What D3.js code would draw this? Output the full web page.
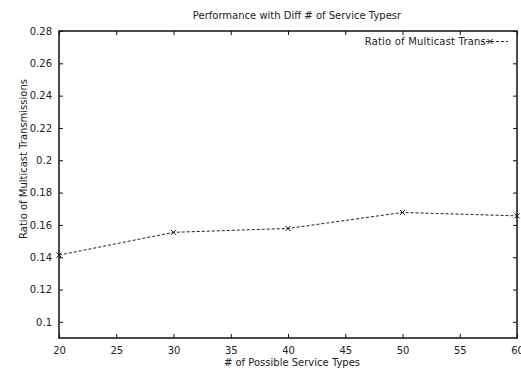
<!DOCTYPE html>
<html>
<head>
<meta charset="utf-8">
<script src="https://cdn.jsdelivr.net/npm/d3@7"></script>
<style>
  body { margin: 0; background: #fff; }
  text { font-family: "DejaVu Sans", sans-serif; fill: #222; }
</style>
</head>
<body>
<div id="chart"></div>
<script>
const serviceTypes = [20, 30, 40, 50, 60];
const multicastRatio = [0.1413, 0.1554, 0.1578, 0.1677, 0.1656];
const xTicks = [20, 25, 30, 35, 40, 45, 50, 55, 60];
const yTicks = [0.1, 0.12, 0.14, 0.16, 0.18, 0.2, 0.22, 0.24, 0.26, 0.28];
const seriesName = "Ratio of Multicast Trans";

const width = 521, height = 372;
const margin = { top: 31, right: 4, bottom: 34, left: 59 };

const svg = d3.select("#chart").append("svg")
  .attr("width", width)
  .attr("height", height);

const x = d3.scaleLinear().domain([20, 60]).range([margin.left, width - margin.right]);
const y = d3.scaleLinear().domain([0.09, 0.28]).range([height - margin.bottom, margin.top]);

const fmt = d => String(+d.toFixed(2));
const tick = 4;

// bottom / top axes (ticks pointing in)
svg.append("g")
  .attr("transform", `translate(0,${y.range()[0]})`)
  .call(d3.axisBottom(x).tickValues(xTicks).tickSizeInner(-tick).tickSizeOuter(0).tickPadding(9))
  .call(g => g.select(".domain").remove());
svg.append("g")
  .attr("transform", `translate(0,${y.range()[1]})`)
  .call(d3.axisTop(x).tickValues(xTicks).tickSizeInner(-tick).tickSizeOuter(0).tickFormat(""))
  .call(g => g.select(".domain").remove());

// left / right axes
svg.append("g")
  .attr("transform", `translate(${x.range()[0]},0)`)
  .call(d3.axisLeft(y).tickValues(yTicks).tickSizeInner(-tick).tickSizeOuter(0).tickPadding(7).tickFormat(fmt))
  .call(g => g.select(".domain").remove());
svg.append("g")
  .attr("transform", `translate(${x.range()[1]},0)`)
  .call(d3.axisRight(y).tickValues(yTicks).tickSizeInner(-tick).tickSizeOuter(0).tickFormat(""))
  .call(g => g.select(".domain").remove());

svg.selectAll(".tick text")
  .style("font-size", "10px")
  .style("font-family", "DejaVu Sans, sans-serif")
  .attr("fill", "#222");
svg.selectAll(".tick line").attr("stroke", "#111");

// frame
svg.append("rect")
  .attr("x", x.range()[0]).attr("y", y.range()[1])
  .attr("width", x.range()[1] - x.range()[0])
  .attr("height", y.range()[0] - y.range()[1])
  .attr("fill", "none").attr("stroke", "#111").attr("stroke-width", 1.5);

// series
const pts = serviceTypes.map((d, i) => [d, multicastRatio[i]]);
svg.append("path")
  .datum(pts)
  .attr("fill", "none")
  .attr("stroke", "#222")
  .attr("stroke-width", 1)
  .attr("stroke-dasharray", "3,2")
  .attr("d", d3.line().x(d => x(d[0])).y(d => y(d[1])));

const cross = d3.symbol().type(d3.symbolX).size(18);
svg.selectAll(".mark")
  .data(pts)
  .join("path")
  .attr("class", "mark")
  .attr("transform", d => `translate(${x(d[0])},${y(d[1])})`)
  .attr("d", cross)
  .attr("fill", "none")
  .attr("stroke", "#111")
  .attr("stroke-width", 1);

// legend
const lg = svg.append("g");
lg.append("line")
  .attr("x1", 481).attr("x2", 508).attr("y1", 41.5).attr("y2", 41.5)
  .attr("stroke", "#222").attr("stroke-dasharray", "3,2");
lg.append("path")
  .attr("transform", "translate(490,41.5)")
  .attr("d", cross)
  .attr("fill", "none").attr("stroke", "#111");
lg.append("text")
  .attr("x", 486).attr("y", 45)
  .attr("text-anchor", "end")
  .style("font-size", "10px")
  .style("letter-spacing", "0.2px")
  .text(seriesName);

// titles
svg.append("text")
  .attr("x", 297).attr("y", 19)
  .attr("text-anchor", "middle")
  .style("font-size", "10px")
  .text("Performance with Diff # of Service Typesr");

svg.append("text")
  .attr("x", 292).attr("y", 366)
  .attr("text-anchor", "middle")
  .style("font-size", "10px")
  .text("# of Possible Service Types");

svg.append("text")
  .attr("transform", "translate(27,159) rotate(-90)")
  .attr("text-anchor", "middle")
  .style("font-size", "10px")
  .text("Ratio of Multicast Transmissions");
</script>
</body>
</html>
